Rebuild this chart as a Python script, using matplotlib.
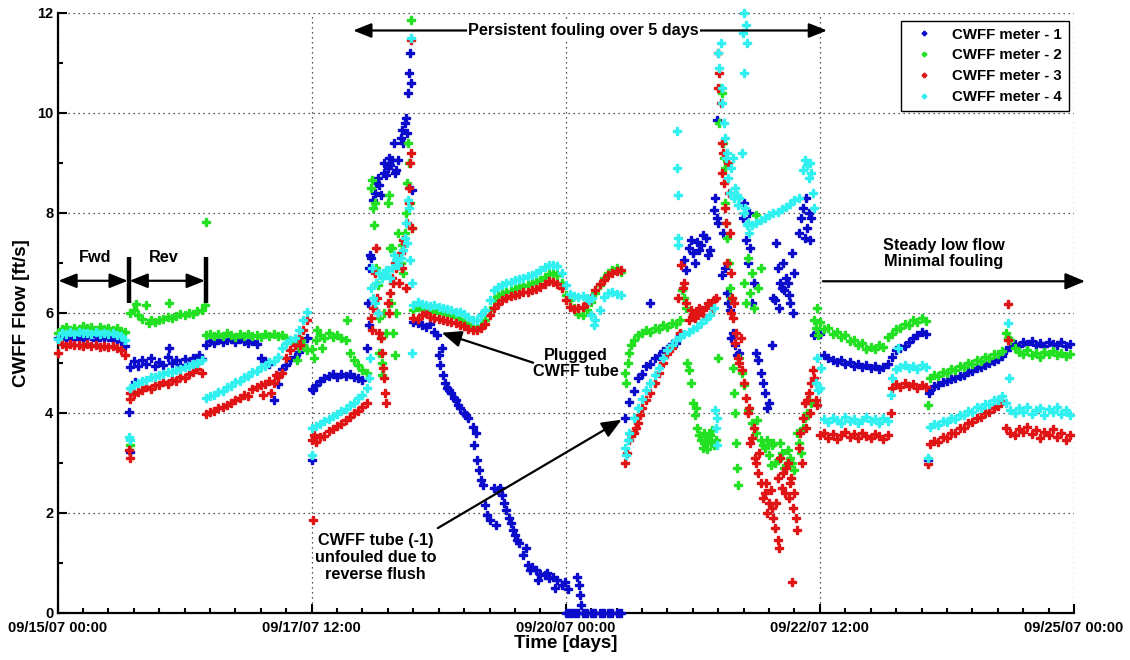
import numpy as np
import matplotlib
matplotlib.use("Agg")
import matplotlib.pyplot as plt
from matplotlib.ticker import MultipleLocator, FixedLocator, FixedFormatter

plt.rcParams['font.family'] = ['Liberation Sans', 'DejaVu Sans']
plt.rcParams['font.weight'] = 'bold'

# hourly samples, counted from 09/15/07 00:00
hours = np.arange(240)

x_tick_hours = [0, 60, 120, 180, 240]
x_tick_labels = ['09/15/07 00:00', '09/17/07 12:00', '09/20/07 00:00',
                 '09/22/07 12:00', '09/25/07 00:00']

meter_names = ['CWFF meter - 1', 'CWFF meter - 2', 'CWFF meter - 3', 'CWFF meter - 4']

# CWFF flow [ft/s], one value per hour (12 values per row = half a day)
meter1_flow = [
    5.50, 5.53, 5.47, 5.52, 5.48, 5.54, 5.47, 5.51, 5.53, 5.46, 5.52, 5.49,
    5.51, 5.45, 5.48, 5.43, 5.33, 4.92, 5.03, 4.93, 5.06, 4.97, 5.09, 4.94,
    5.01, 4.96, 5.12, 4.99, 5.05, 4.95, 5.07, 4.98, 5.10, 5.00, 5.08, 5.36,
    5.44, 5.40, 5.46, 5.41, 5.45, 5.48, 5.42, 5.47, 5.43, 5.40, 5.44, 5.38,
    5.10, 5.03, 4.97, 4.25, 4.58, 4.88, 4.96, 5.05, 5.12, 5.22, 5.36, 5.50,
    4.48, 4.56, 4.63, 4.69, 4.73, 4.77, 4.72, 4.78, 4.74, 4.77, 4.71, 4.69,
    4.66, 5.30, 7.10, 8.40, 8.55, 8.80, 8.90, 9.05, 8.85, 9.50, 9.80, 10.80,
    5.82, 5.79, 5.75, 5.71, 5.77, 5.62, 5.15, 4.75, 4.50, 4.40, 4.25, 4.10,
    4.00, 3.90, 3.72, 3.05, 2.65, 2.15, 1.85, 2.50, 2.45, 2.35, 2.05, 1.80,
    1.55, 1.40, 1.15, 0.95, 0.92, 0.85, 0.78, 0.76, 0.70, 0.72, 0.66, 0.55,
    0.00, 0.00, 0.00, 0.00, 0.00, 0.00, 0.00, 0.00, 0.00, 0.00, 0.00, 0.00,
    0.00, 0.00, 3.90, 4.22, 4.43, 4.70, 4.78, 4.93, 4.98, 5.10, 5.13, 5.24,
    5.28, 5.38, 5.40, 5.57, 7.05, 7.30, 7.20, 7.42, 7.35, 7.50, 7.25, 8.05,
    7.80, 6.75, 6.40, 5.50, 5.35, 5.20, 8.20, 7.00, 6.20, 5.20, 4.80, 4.40,
    4.20, 6.30, 6.90, 6.50, 6.70, 6.20, 6.80, 7.60, 8.10, 7.70, 7.90, 5.60,
    5.58, 5.15, 5.09, 5.05, 5.02, 5.06, 4.97, 5.01, 4.94, 4.98, 4.91, 4.96,
    4.89, 4.94, 4.87, 4.92, 4.97, 5.12, 5.25, 5.30, 5.34, 5.42, 5.50, 5.55,
    5.62, 5.57, 4.45, 4.53, 4.55, 4.61, 4.63, 4.68, 4.70, 4.73, 4.76, 4.81,
    4.83, 4.89, 4.92, 4.96, 5.00, 5.04, 5.08, 5.13, 5.25, 5.31, 5.38, 5.34,
    5.41, 5.37, 5.43, 5.35, 5.39, 5.34, 5.42, 5.38, 5.36, 5.41, 5.33, 5.37,
]

meter2_flow = [
    5.60, 5.68, 5.72, 5.66, 5.70, 5.67, 5.73, 5.69, 5.71, 5.66, 5.72, 5.68,
    5.70, 5.65, 5.69, 5.64, 5.62, 6.00, 6.05, 5.95, 5.88, 6.15, 5.85, 5.82,
    5.86, 5.88, 5.92, 5.90, 5.94, 5.97, 5.95, 6.00, 5.98, 6.03, 6.05, 5.55,
    5.57, 5.53, 5.58, 5.54, 5.59, 5.55, 5.52, 5.57, 5.54, 5.58, 5.53, 5.56,
    5.52, 5.57, 5.54, 5.58, 5.53, 5.56, 5.50, 5.45, 5.40, 5.30, 5.36, 5.25,
    5.28, 5.45, 5.55, 5.50, 5.60, 5.52, 5.56, 5.50, 5.45, 5.20, 5.05, 4.95,
    4.85, 4.80, 8.50, 8.20, 5.20, 6.00, 8.20, 7.30, 6.00, 7.00, 7.60, 9.00,
    6.05, 6.11, 6.07, 6.05, 6.01, 6.05, 5.99, 6.02, 5.97, 5.96, 5.91, 5.88,
    5.82, 5.77, 5.72, 5.70, 5.74, 5.85, 6.05, 6.25, 6.33, 6.37, 6.41, 6.44,
    6.47, 6.51, 6.53, 6.56, 6.59, 6.62, 6.66, 6.72, 6.78, 6.80, 6.76, 6.60,
    6.35, 6.25, 6.10, 5.98, 5.96, 6.05, 6.22, 6.40, 6.55, 6.70, 6.80, 6.85,
    6.90, 6.82, 4.80, 5.20, 5.45, 5.55, 5.60, 5.65, 5.62, 5.70, 5.68, 5.75,
    5.72, 5.80, 5.78, 5.85, 6.30, 4.85, 4.20, 3.70, 3.45, 3.40, 3.55, 3.35,
    5.10, 10.40, 7.50, 6.30, 4.00, 5.10, 6.60, 4.05, 3.80, 3.60, 3.45, 3.30,
    3.15, 3.40, 3.05, 3.20, 2.95, 3.10, 2.85, 3.40, 3.70, 4.00, 4.20, 5.70,
    5.82, 5.68, 5.70, 5.58, 5.62, 5.52, 5.55, 5.44, 5.46, 5.36, 5.40, 5.28,
    5.32, 5.27, 5.35, 5.31, 5.52, 5.58, 5.68, 5.70, 5.78, 5.76, 5.85, 5.82,
    5.89, 5.84, 4.70, 4.76, 4.73, 4.81, 4.80, 4.88, 4.86, 4.93, 4.91, 4.99,
    4.98, 5.06, 5.04, 5.12, 5.10, 5.18, 5.17, 5.24, 5.60, 5.45, 5.30, 5.22,
    5.18, 5.25, 5.15, 5.20, 5.12, 5.22, 5.18, 5.24, 5.15, 5.20, 5.14, 5.18,
]

meter3_flow = [
    5.20, 5.37, 5.34, 5.38, 5.35, 5.36, 5.33, 5.37, 5.34, 5.35, 5.32, 5.34,
    5.31, 5.33, 5.29, 5.25, 5.15, 4.28, 4.38, 4.42, 4.46, 4.51, 4.47, 4.56,
    4.55, 4.61, 4.58, 4.66, 4.64, 4.71, 4.70, 4.77, 4.82, 4.88, 4.80, 3.98,
    4.01, 4.04, 4.09, 4.11, 4.16, 4.19, 4.26, 4.29, 4.36, 4.34, 4.48, 4.51,
    4.56, 4.57, 4.63, 4.60, 4.71, 4.80, 5.10, 5.25, 5.35, 5.50, 5.65, 5.85,
    3.45, 3.42, 3.51, 3.54, 3.63, 3.67, 3.73, 3.77, 3.86, 3.91, 3.99, 4.04,
    4.12, 4.20, 5.90, 6.80, 5.60, 4.70, 6.20, 6.70, 6.90, 7.20, 7.40, 8.50,
    5.90, 5.87, 5.95, 6.00, 5.92, 5.90, 5.87, 5.86, 5.83, 5.82, 5.79, 5.76,
    5.73, 5.68, 5.66, 5.66, 5.70, 5.78, 5.95, 6.10, 6.18, 6.25, 6.29, 6.33,
    6.36, 6.38, 6.41, 6.42, 6.45, 6.48, 6.52, 6.58, 6.63, 6.62, 6.58, 6.50,
    6.25, 6.12, 6.08, 6.09, 6.12, 6.20, 6.30, 6.45, 6.58, 6.66, 6.75, 6.80,
    6.83, 6.86, 3.00, 3.45, 3.60, 3.80, 4.10, 4.25, 4.40, 4.60, 4.80, 5.00,
    5.18, 5.30, 5.45, 5.60, 6.60, 5.85, 5.95, 6.00, 6.05, 6.12, 6.18, 6.25,
    10.50, 8.80, 7.00, 6.00, 5.40, 5.00, 4.60, 4.00, 3.50, 3.00, 2.60, 2.40,
    2.20, 1.90, 2.70, 2.50, 2.90, 2.60, 2.40, 3.30, 3.90, 4.25, 4.60, 4.25,
    3.55, 3.60, 3.50, 3.58, 3.48, 3.56, 3.62, 3.52, 3.57, 3.49, 3.60, 3.54,
    3.50, 3.58, 3.53, 3.47, 3.56, 4.50, 4.58, 4.52, 4.60, 4.54, 4.57, 4.50,
    4.56, 4.52, 3.38, 3.43, 3.42, 3.51, 3.50, 3.60, 3.59, 3.69, 3.70, 3.80,
    3.81, 3.90, 3.91, 4.00, 4.01, 4.10, 4.13, 4.24, 3.70, 3.60, 3.55, 3.68,
    3.62, 3.72, 3.58, 3.65, 3.50, 3.62, 3.55, 3.68, 3.52, 3.60, 3.45, 3.55,
]

meter4_flow = [
    5.48, 5.60, 5.57, 5.61, 5.58, 5.62, 5.59, 5.60, 5.57, 5.61, 5.58, 5.60,
    5.57, 5.59, 5.56, 5.53, 5.45, 4.50, 4.56, 4.59, 4.64, 4.65, 4.71, 4.72,
    4.76, 4.78, 4.81, 4.82, 4.86, 4.87, 4.91, 4.93, 4.97, 5.00, 5.05, 4.30,
    4.33, 4.35, 4.41, 4.44, 4.51, 4.54, 4.61, 4.64, 4.71, 4.74, 4.81, 4.84,
    4.91, 4.94, 5.01, 5.04, 5.11, 5.30, 5.40, 5.45, 5.50, 5.65, 5.85, 6.02,
    3.70, 3.73, 3.77, 3.83, 3.87, 3.93, 3.97, 4.03, 4.07, 4.16, 4.19, 4.29,
    4.35, 4.50, 6.50, 6.20, 6.80, 6.75, 6.85, 6.90, 7.05, 7.10, 7.50, 8.10,
    6.15, 6.21, 6.17, 6.16, 6.14, 6.15, 6.11, 6.10, 6.07, 6.05, 6.02, 6.02,
    5.97, 5.92, 5.86, 5.85, 5.95, 6.05, 6.25, 6.45, 6.52, 6.56, 6.60, 6.62,
    6.65, 6.68, 6.70, 6.73, 6.76, 6.80, 6.85, 6.92, 6.96, 6.95, 6.93, 6.80,
    6.55, 6.38, 6.33, 6.32, 6.33, 6.30, 5.95, 5.85, 6.05, 6.32, 6.40, 6.42,
    6.38, 6.35, 3.30, 3.60, 3.90, 4.10, 4.27, 4.45, 4.60, 4.75, 4.90, 5.10,
    5.25, 5.35, 5.45, 5.52, 5.58, 5.62, 5.68, 5.72, 5.80, 5.88, 5.95, 6.10,
    11.20, 10.50, 9.20, 8.90, 8.50, 8.30, 8.00, 7.80, 7.75, 7.80, 7.85, 7.90,
    7.95, 8.00, 8.02, 8.08, 8.12, 8.18, 8.25, 8.30, 8.85, 8.95, 8.80, 4.60,
    4.50, 3.88, 3.82, 3.90, 3.85, 3.80, 3.92, 3.84, 3.88, 3.79, 3.86, 3.91,
    3.83, 3.87, 3.80, 3.89, 3.84, 4.70, 4.88, 4.92, 4.95, 4.90, 4.93, 4.88,
    4.95, 4.92, 3.72, 3.78, 3.76, 3.83, 3.81, 3.89, 3.88, 3.96, 3.95, 4.03,
    4.02, 4.11, 4.10, 4.18, 4.18, 4.26, 4.25, 4.33, 4.20, 4.05, 4.00, 4.10,
    4.02, 4.12, 3.98, 4.06, 4.10, 3.95, 4.08, 4.02, 4.12, 3.98, 4.05, 3.96,
]

# additional readings between the hourly samples: (hour, flow)
meter1_extra = [
    (16.9, 4.02), (17.0, 3.22), (26.4, 5.30), (33.5, 5.15), (18.3, 4.62),
    (60.2, 3.06), (60.4, 4.45),
    (73.3, 6.20), (73.5, 5.75), (73.6, 6.90), (73.8, 7.15), (74.5, 8.25),
    (75.3, 8.60), (75.6, 8.70), (76.4, 8.35), (77.2, 9.00), (77.5, 8.75),
    (78.3, 9.10), (78.6, 8.95), (79.4, 9.40), (79.7, 8.80), (80.4, 9.05),
    (81.3, 9.65), (81.6, 9.40), (82.2, 9.90), (82.5, 9.60), (82.8, 10.40),
    (83.2, 11.20), (83.5, 10.60), (83.8, 8.45),
    (89.5, 5.55), (90.4, 4.95), (90.7, 5.30), (91.5, 4.60), (92.4, 4.45),
    (93.5, 4.30), (94.5, 4.15), (96.5, 3.95), (98.4, 3.35), (98.7, 3.60),
    (99.5, 2.85), (100.5, 2.55), (101.5, 1.95), (103.5, 1.75), (104.5, 2.50),
    (105.5, 2.20), (106.5, 1.90), (107.5, 1.65), (108.5, 1.45), (110.5, 1.30),
    (111.5, 0.85), (113.5, 0.65), (115.5, 0.80), (117.5, 0.50), (119.8, 0.62),
    (120.6, 0.48), (122.7, 0.72), (123.1, 0.55), (123.4, 0.35), (123.7, 0.15),
    (120.5, 0.00), (121.5, 0.00), (122.5, 0.00), (124.5, 0.00), (126.5, 0.00),
    (128.5, 0.00), (130.5, 0.00), (132.5, 0.00),
    (139.9, 6.20), (148.5, 6.85), (149.5, 7.45), (150.5, 7.00), (151.5, 7.25),
    (152.5, 7.55), (153.5, 7.15), (155.3, 8.30), (155.6, 9.85), (155.8, 7.90),
    (157.2, 7.60), (157.5, 6.90), (158.3, 6.20), (158.8, 6.05), (159.5, 5.60),
    (160.5, 5.15), (161.8, 7.90), (162.5, 7.45), (163.3, 8.00), (163.6, 7.30),
    (164.5, 6.60), (165.5, 5.05), (166.5, 4.60), (167.5, 4.10), (168.7, 5.35),
    (169.4, 6.25), (169.6, 7.40), (170.3, 6.10), (170.6, 6.60), (171.3, 7.00),
    (171.6, 6.45), (172.4, 6.60), (172.7, 6.35), (173.4, 7.20), (173.7, 6.00),
    (175.5, 7.90), (176.4, 7.50), (176.7, 8.30), (177.5, 8.00), (177.7, 7.45),
    (178.6, 5.55), (205.5, 3.05), (205.8, 4.40),
]

meter2_extra = [
    (17.0, 3.35), (18.5, 6.18), (21.5, 5.80), (26.3, 6.20), (34.8, 6.15),
    (35.0, 7.82), (56.5, 5.05), (57.5, 5.45), (60.5, 5.10), (61.3, 5.65),
    (62.5, 5.30), (68.3, 5.85),
    (74.3, 8.65), (74.6, 8.10), (74.8, 7.75), (75.3, 6.90), (75.6, 6.55),
    (75.8, 5.90), (76.3, 5.50), (76.5, 4.75), (76.7, 5.00), (77.5, 5.60),
    (78.3, 8.35), (78.6, 7.30), (78.8, 6.20), (79.3, 5.60), (79.6, 5.15),
    (80.3, 7.60), (80.6, 6.95), (81.3, 7.35), (81.6, 6.80), (82.3, 8.00),
    (82.6, 8.60), (82.8, 9.40), (83.2, 8.20), (83.5, 11.85), (83.7, 7.70),
    (134.3, 4.60), (134.6, 5.00), (135.5, 5.35),
    (147.5, 6.45), (148.3, 6.10), (148.6, 5.00), (149.5, 4.60), (150.4, 3.95),
    (150.7, 4.10), (151.5, 3.55), (152.3, 3.30), (152.6, 3.60), (153.3, 3.28),
    (153.6, 3.50), (154.3, 3.40), (154.6, 3.65), (155.5, 3.45),
    (156.2, 9.80), (156.6, 10.50), (157.2, 9.40), (157.4, 9.10), (157.5, 8.90),
    (157.7, 8.20), (157.9, 7.80), (158.5, 7.00), (158.8, 6.50),
    (159.5, 4.90), (159.7, 4.40), (160.3, 3.40), (160.5, 2.90), (160.7, 2.55),
    (161.5, 4.80), (162.0, 4.55), (162.5, 6.20), (163.0, 7.10), (163.5, 6.40),
    (164.0, 6.80), (164.5, 6.10), (165.0, 7.95), (165.5, 6.50), (166.0, 6.90),
    (165.2, 3.85), (166.5, 3.35), (167.5, 3.45), (168.4, 2.95), (168.7, 3.35),
    (169.5, 3.00), (170.5, 3.40), (171.5, 2.90), (172.5, 3.25), (173.5, 3.00),
    (174.5, 3.60), (175.5, 3.20), (176.5, 3.90), (177.5, 4.25),
    (178.7, 5.85), (179.3, 6.10), (179.5, 5.55), (205.5, 4.16), (224.5, 5.50),
]

meter3_extra = [
    (16.9, 3.25), (17.0, 3.10), (17.2, 4.40),
    (48.5, 4.35), (50.5, 4.40), (51.5, 4.75), (57.2, 5.35),
    (60.3, 1.85), (60.6, 3.55),
    (74.3, 5.65), (74.6, 6.10), (75.2, 7.30), (75.4, 6.30), (75.7, 6.00),
    (76.3, 5.50), (76.5, 5.20), (76.8, 4.90), (77.3, 4.40), (77.6, 4.20),
    (78.3, 6.00), (78.6, 6.40), (79.3, 6.60), (79.6, 7.00), (80.4, 7.10),
    (80.7, 6.60), (81.3, 6.90), (81.6, 7.45), (82.3, 6.50), (82.6, 7.80),
    (82.9, 8.20), (83.2, 9.00), (83.4, 9.20), (83.5, 11.45), (83.7, 7.70),
    (134.4, 3.20), (135.5, 3.55), (136.5, 3.70), (137.5, 3.95),
    (146.5, 6.30), (147.3, 6.95), (147.6, 6.50), (148.5, 6.20), (149.5, 6.05),
    (150.5, 5.90), (151.5, 6.10), (152.5, 5.95), (153.5, 6.20), (154.5, 6.10),
    (155.5, 6.30), (156.0, 11.20), (156.3, 10.80), (156.6, 10.20), (156.9, 9.40),
    (157.1, 9.20), (157.4, 8.60), (157.6, 8.10), (157.9, 7.80), (158.3, 9.00),
    (158.5, 8.40), (158.7, 7.60), (158.9, 6.80), (159.3, 6.30), (159.6, 5.90),
    (159.8, 6.20), (160.3, 5.60), (160.6, 5.10), (161.3, 5.50), (161.6, 4.85),
    (162.5, 4.30), (163.3, 4.10), (163.6, 3.40), (164.4, 3.70), (164.7, 3.10),
    (165.4, 2.80), (165.7, 3.20), (166.5, 2.30), (167.3, 2.60), (167.6, 2.00),
    (168.4, 2.45), (168.7, 2.10), (169.4, 1.70), (169.7, 2.20), (170.2, 1.45),
    (170.4, 1.30), (170.7, 3.10), (171.4, 2.80), (171.7, 2.40), (172.4, 3.00),
    (172.7, 2.30), (173.3, 2.70), (173.5, 0.62), (173.7, 2.10), (174.3, 1.90),
    (174.6, 1.65), (175.4, 3.60), (175.7, 3.00), (176.4, 4.20), (176.7, 3.70),
    (177.4, 4.40), (177.7, 4.00), (178.4, 4.85), (178.7, 4.70), (179.4, 4.15),
    (196.8, 4.00), (205.5, 2.97), (224.3, 6.18), (224.5, 5.45),
]

meter4_extra = [
    (16.9, 3.52), (17.0, 3.45), (60.2, 3.15),
    (73.5, 4.70), (73.7, 5.10), (74.3, 6.90), (74.6, 6.30), (75.3, 6.60),
    (75.6, 6.00), (76.5, 6.70), (77.5, 6.85), (78.5, 6.70), (79.5, 7.15),
    (80.5, 6.95), (81.5, 7.25), (82.2, 7.80), (82.5, 7.40), (82.8, 8.25),
    (83.2, 7.05), (83.4, 11.50), (83.6, 6.60), (83.8, 5.20),
    (125.5, 6.25), (126.3, 6.30), (126.6, 5.75),
    (134.3, 3.15), (134.6, 3.45),
    (146.2, 9.64), (146.3, 8.90), (146.4, 8.35), (146.5, 7.50), (146.6, 7.35),
    (155.2, 4.05), (155.4, 3.70), (155.6, 3.35), (155.8, 3.90),
    (156.3, 10.90), (156.6, 11.40), (156.9, 10.20), (157.3, 9.80), (157.6, 9.50),
    (157.9, 9.10), (158.4, 8.70), (158.7, 8.40), (159.4, 9.10), (159.7, 8.30),
    (160.4, 8.35), (160.7, 8.15), (161.7, 9.20), (161.9, 11.60), (162.0, 10.80),
    (162.2, 12.00), (162.5, 11.75), (162.8, 11.40), (162.4, 8.10), (162.7, 7.75),
    (163.3, 7.60),
    (176.5, 9.05), (177.4, 8.70), (177.7, 9.00), (178.4, 8.40), (178.6, 8.10),
    (179.3, 5.10), (179.6, 4.45), (180.3, 4.90),
    (196.8, 4.35), (198.5, 5.30), (205.5, 3.10), (224.3, 5.80), (224.6, 4.70),
]

meter_colors = ['#0b0bcc', '#22e022', '#e01414', '#30f0f0']

fig = plt.figure(figsize=(11.3, 6.6), dpi=100)
ax = fig.add_axes([57.5 / 1130, 1 - 612.5 / 660, 1016.5 / 1130, 599.5 / 660])

for name, flow, extra, color in zip(meter_names,
                                    [meter1_flow, meter2_flow, meter3_flow, meter4_flow],
                                    [meter1_extra, meter2_extra, meter3_extra, meter4_extra],
                                    meter_colors):
    t = np.concatenate([hours, [p[0] for p in extra]])
    v = np.concatenate([np.asarray(flow, float), [p[1] for p in extra]])
    ax.plot(t, v, linestyle='none', marker='P', markersize=5.6, markeredgewidth=1.0,
            markeredgecolor=color, color=color, label=name, clip_on=False, zorder=3)

ax.set_xlim(0, 240)
ax.set_ylim(0, 12)
ax.xaxis.set_major_locator(FixedLocator(x_tick_hours))
ax.xaxis.set_major_formatter(FixedFormatter(x_tick_labels))
ax.xaxis.set_minor_locator(MultipleLocator(6))
ax.yaxis.set_major_locator(MultipleLocator(2))
ax.yaxis.set_minor_locator(MultipleLocator(1))

for side in ('top', 'right'):
    ax.spines[side].set_visible(False)
for side in ('left', 'bottom'):
    ax.spines[side].set_linewidth(1.6)

ax.tick_params(which='both', direction='in', width=1.5, top=False, right=False,
               labelsize=10.5)
ax.tick_params(which='major', length=6.5)
ax.tick_params(which='minor', length=3.5)
ax.tick_params(axis='x', which='major', pad=6)
ax.tick_params(axis='y', which='major', pad=3)
for lbl in ax.get_xticklabels() + ax.get_yticklabels():
    lbl.set_fontweight('bold')

ax.grid(True, which='major', color='#222222', linestyle=(0, (1, 3)), linewidth=0.9)
ax.set_axisbelow(True)

ax.set_xlabel('Time [days]', fontsize=13.5, fontweight='bold')
ax.set_ylabel('CWFF Flow [ft/s]', fontsize=13.5, fontweight='bold')
ax.xaxis.set_label_coords(0.5, -0.038)
ax.yaxis.set_label_coords(-0.027, 0.5)

ann_font = dict(fontsize=11.7, fontweight='bold', color='black')
head = dict(arrowstyle='<|-|>,head_length=0.55,head_width=0.22', color='black',
            lw=1.6, shrinkA=0, shrinkB=0, mutation_scale=20)

# forward / reverse flow periods
ax.annotate('', xy=(0.2, 6.64), xytext=(16.6, 6.64), arrowprops=head, annotation_clip=False)
ax.annotate('', xy=(17.0, 6.64), xytext=(34.8, 6.64), arrowprops=head, annotation_clip=False)
for xb in (16.8, 35.0):
    ax.plot([xb, xb], [6.19, 7.11], color='black', lw=3.2, solid_capstyle='butt', zorder=4)
ax.text(9.0, 7.1, 'Fwd', ha='center', va='center', **ann_font)
ax.text(25.0, 7.1, 'Rev', ha='center', va='center', **ann_font)

# persistent fouling span
ax.annotate('', xy=(69.8, 11.65), xytext=(181.7, 11.65), arrowprops=head, annotation_clip=False)
ax.text(124.2, 11.65, 'Persistent fouling over 5 days', ha='center', va='center',
        bbox=dict(facecolor='white', edgecolor='none', pad=1.0), zorder=5, **ann_font)

single = dict(arrowstyle='-|>,head_length=0.6,head_width=0.25', color='black',
              lw=1.6, shrinkA=0, shrinkB=0, mutation_scale=20)

ax.annotate('', xy=(90.7, 5.60), xytext=(112.3, 5.00), arrowprops=single)
ax.text(122.3, 4.98, 'Plugged\nCWFF tube', ha='center', va='center',
        linespacing=1.1, **ann_font)

ax.annotate('', xy=(133.2, 3.86), xytext=(89.8, 1.69), arrowprops=single)
ax.text(75.1, 1.10, 'CWFF tube (-1)\nunfouled due to\nreverse flush', ha='center',
        va='center', linespacing=1.15, **ann_font)

ax.annotate('', xy=(242.6, 6.63), xytext=(180.7, 6.63), arrowprops=single,
            annotation_clip=False)
ax.text(209.3, 7.18, 'Steady low flow\nMinimal fouling', ha='center', va='center',
        linespacing=1.1, **ann_font)

leg = ax.legend(loc='upper right', bbox_to_anchor=(0.995, 0.987), numpoints=1,
                frameon=True, fancybox=False, edgecolor='black', framealpha=1,
                prop=dict(size=10.8, weight='bold'), markerscale=0.55,
                handlelength=2.2, handletextpad=0.8, labelspacing=0.45,
                borderpad=0.45, borderaxespad=0)
leg.get_frame().set_linewidth(1.0)

fig.savefig('out.png', dpi=100)
